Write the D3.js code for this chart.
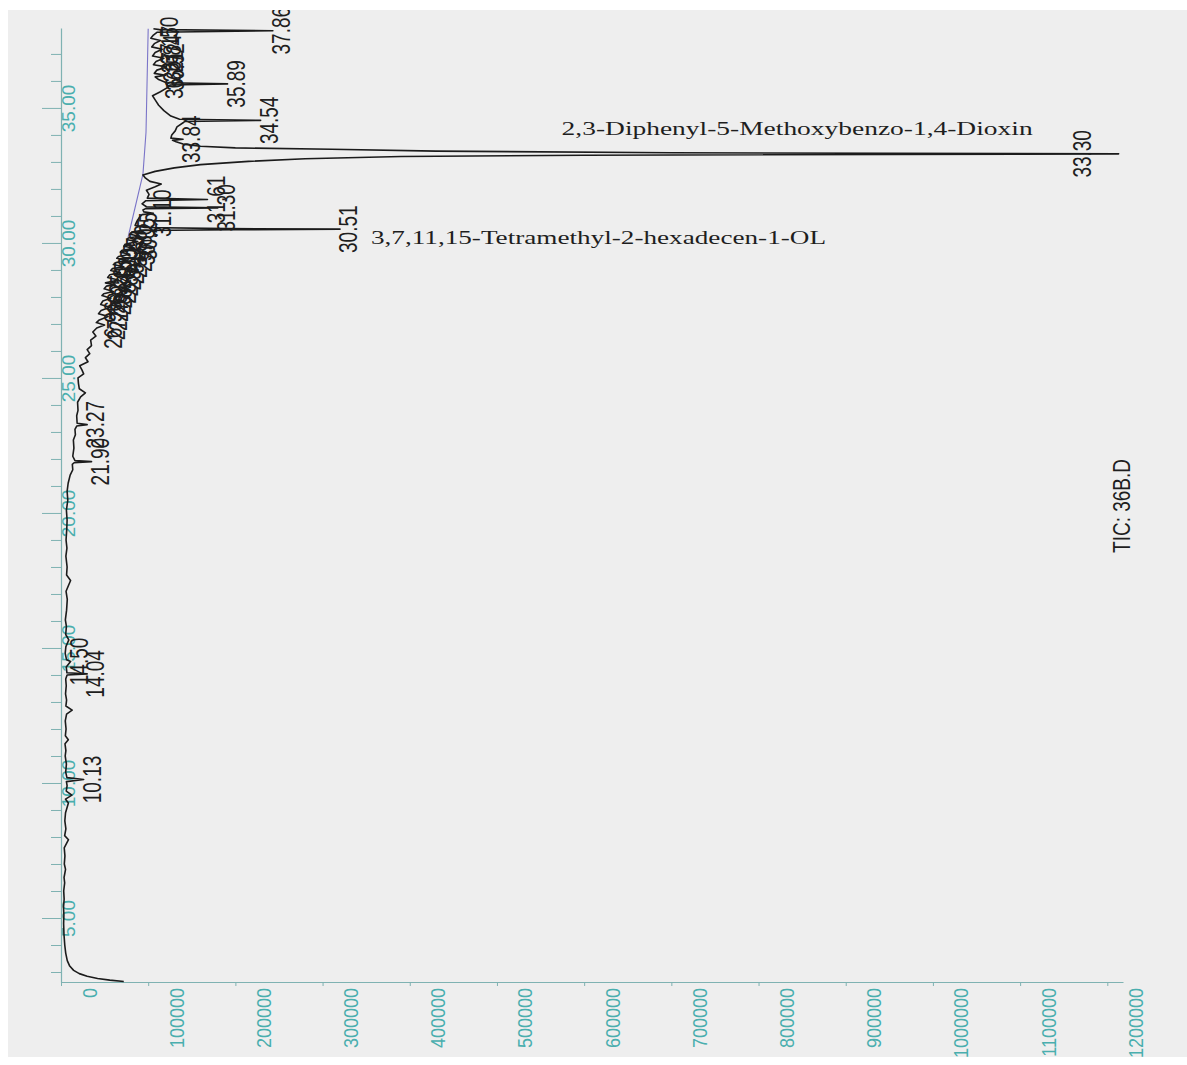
<!DOCTYPE html>
<html>
<head>
<meta charset="utf-8">
<script src="https://cdn.jsdelivr.net/npm/d3@7"></script>
<style>
  html, body { margin: 0; padding: 0; background: #ffffff; }
  svg { display: block; }
</style>
</head>
<body>
<svg id="chart" width="1187" height="1065"></svg>
<script>
// Total ion chromatogram, drawn with retention time running upward and abundance to the right.

// Retention time (min) and abundance of the trace
const trace = [
  [2.65, 72000],[2.70, 56000],[2.76, 42000],[2.84, 30000],[2.94, 21000],[3.06, 14500],[3.22, 10000],
  [3.42, 7200],[3.70, 5400],[4.00, 4300],[4.40, 3400],[4.80, 3000],[5.10, 3300],[5.40, 2900],
  [5.70, 3600],[6.00, 3100],[6.30, 4200],[6.50, 3500],[6.80, 5200],[7.00, 3800],[7.30, 4500],
  [7.60, 3700],[7.90, 8600],[8.05, 4200],[8.30, 5600],[8.60, 4400],[8.90, 5200],[9.26, 8500],
  [9.40, 5200],[9.55, 12500],[9.70, 6000],[9.90, 7000],[10.05, 6200],[10.13, 26000],[10.20, 6800],
  [10.40, 5400],[10.70, 6200],[11.00, 4800],[11.20, 5600],[11.45, 4600],[11.60, 8400],[11.75, 5000],
  [12.00, 5800],[12.30, 4900],[12.55, 6400],[12.70, 12800],[12.85, 5600],[13.07, 6400],[13.30, 5200],
  [13.60, 6000],[13.85, 5400],[14.00, 7000],[14.04, 30000],[14.08, 6800],[14.30, 6000],[14.50, 11000],
  [14.56, 6400],[14.80, 4800],[15.05, 5600],[15.30, 9000],[15.50, 5400],[15.80, 6200],[16.04, 5000],
  [16.40, 6400],[16.80, 7200],[17.10, 5800],[17.50, 11000],[17.70, 6400],[18.00, 7000],[18.40, 5600],
  [18.70, 6800],[19.00, 5800],[19.40, 6600],[19.74, 7000],[20.10, 6200],[20.48, 7800],[20.80, 7000],
  [21.10, 8200],[21.40, 10500],[21.60, 13500],[21.80, 13000],[21.86, 15000],[21.90, 35000],[21.94, 16000],
  [22.10, 13500],[22.40, 14800],[22.70, 14200],[22.90, 16500],[23.10, 16000],[23.22, 18000],[23.27, 30000],
  [23.32, 18500],[23.60, 18000],[23.80, 19500],[24.10, 19000],[24.30, 22500],[24.45, 28000],[24.60, 21000],
  [24.80, 20000],[25.00, 19500],[25.15, 26000],[25.30, 24000],[25.45, 21500],[25.60, 31000],[25.75, 28000],
  [25.90, 33000],[26.05, 30000],[26.20, 35000],[26.40, 34000],[26.55, 40000],[26.70, 36500],[26.85, 41000],
  [26.96, 50000],[27.05, 40500],[27.15, 44000],[27.28, 54000],[27.38, 43000],[27.50, 46000],[27.62, 56000],
  [27.72, 45500],[27.85, 48000],[27.95, 57000],[28.05, 47000],[28.12, 49000],[28.20, 60000],[28.30, 49500],
  [28.40, 52000],[28.45, 62000],[28.52, 51000],[28.63, 66000],[28.72, 53500],[28.82, 56000],[28.90, 68000],
  [28.98, 57000],[29.05, 59000],[29.12, 72000],[29.20, 60000],[29.27, 63000],[29.35, 75000],[29.43, 64000],
  [29.50, 66000],[29.58, 79000],[29.66, 68000],[29.73, 70000],[29.80, 84000],[29.88, 72000],[29.95, 73500],
  [30.05, 88000],[30.12, 76000],[30.18, 77000],[30.25, 90000],[30.32, 79000],[30.40, 81000],[30.46, 92000],
  [30.49, 200000],[30.51, 320000],[30.53, 190000],[30.57, 96000],[30.65, 85000],[30.80, 87000],[30.95, 90000],
  [31.05, 93000],[31.10, 106000],[31.15, 95000],[31.22, 94000],[31.27, 97000],[31.30, 180000],[31.34, 98000],
  [31.45, 93000],[31.56, 97000],[31.61, 168000],[31.66, 99000],[31.80, 101000],[31.95, 98000],[32.08, 108000],
  [32.18, 115000],[32.28, 102000],[32.40, 97000],[32.52, 94000],[32.65, 108000],[32.78, 130000],[32.90, 160000],
  [33.02, 215000],[33.12, 280000],[33.20, 390000],[33.25, 600000],[33.30, 1213000],[33.34, 700000],[33.40, 430000],
  [33.47, 310000],[33.52, 200000],[33.58, 160000],[33.66, 140000],[33.75, 132000],[33.80, 128000],[33.84, 140000],
  [33.88, 126000],[34.00, 127000],[34.15, 131000],[34.30, 133000],[34.45, 140000],[34.50, 142000],[34.54, 229000],
  [34.58, 136000],[34.70, 126000],[34.90, 118000],[35.10, 112000],[35.30, 108000],[35.45, 105000],[35.60, 114000],
  [35.75, 122000],[35.85, 125000],[35.89, 191000],[35.93, 121000],[36.05, 112000],[36.15, 108000],[36.21, 120000],
  [36.28, 107000],[36.40, 110000],[36.52, 121000],[36.60, 106000],[36.72, 109000],[36.84, 118000],[36.92, 105000],
  [37.05, 108000],[37.17, 116000],[37.26, 104000],[37.38, 107000],[37.50, 114000],[37.58, 103000],[37.70, 106000],
  [37.80, 110000],[37.86, 243000],[37.90, 113000],[37.93, 106000]
];

// Retention times of the integrated peaks that carry a label
const peakTimes = [10.13, 14.04, 14.50, 21.90, 23.27, 26.96, 27.28, 27.62, 27.95, 28.20, 28.45, 28.63,
  28.90, 29.12, 29.35, 29.58, 29.80, 30.05, 30.25, 30.51, 31.10, 31.30, 31.61, 33.30, 33.84, 34.54,
  35.89, 36.21, 36.52, 36.84, 37.17, 37.50, 37.86];

// Identified compounds and the peaks they belong to
const compoundNames = ["2,3-Diphenyl-5-Methoxybenzo-1,4-Dioxin", "3,7,11,15-Tetramethyl-2-hexadecen-1-OL"];
const compoundPeaks = [33.30, 30.51];

// Integration baseline under the late-eluting peaks
const integrationBaseline = [[30.22, 77000], [32.55, 94000], [34.10, 97500], [37.93, 100000]];

// Axis ticks
const abundanceTicks = [0, 100000, 200000, 300000, 400000, 500000, 600000, 700000, 800000, 900000, 1000000, 1100000, 1200000];
const timeMajorTicks = [5, 10, 15, 20, 25, 30, 35];
const timeMinorTicks = [3, 4, 6, 7, 8, 9, 11, 12, 13, 14, 16, 17, 18, 19, 21, 22, 23, 24, 26, 27, 28, 29, 31, 32, 33, 34, 36, 37];

const fileLabel = "TIC: 36B.D";

const svg = d3.select("#chart");
const axisColor = "#7fb2b2";
const tickTextColor = "#4aaeae";
const traceColor = "#1b1b1b";

// page background
svg.append("rect").attr("x", 8).attr("y", 10).attr("width", 1179).attr("height", 1047).attr("fill", "#eeeeee");
svg.append("clipPath").attr("id", "page").append("rect")
  .attr("x", 8).attr("y", 10).attr("width", 1179).attr("height", 1047);

const root = svg.append("g").attr("clip-path", "url(#page)");

const x = d3.scaleLinear().domain([0, 1218000]).range([61, 1123]);
const y = d3.scaleLinear().domain([2.63, 37.96]).range([982, 28]);

// abundance axis along the bottom
const xAxis = root.append("g").attr("transform", `translate(0,${y.range()[0]})`)
  .call(d3.axisBottom(x).tickValues(abundanceTicks).tickSize(4).tickSizeOuter(0).tickFormat(d3.format("d")));
xAxis.select(".domain").attr("stroke", axisColor).attr("stroke-width", 1.2);
xAxis.selectAll(".tick line").attr("stroke", axisColor);
xAxis.selectAll(".tick text")
  .attr("x", 0).attr("y", 0).attr("dy", 0)
  .attr("transform", "translate(35,6) scale(1.15,1) rotate(-90)")
  .attr("text-anchor", "end")
  .attr("fill", tickTextColor)
  .style("font-family", "'Liberation Sans', Arial, sans-serif")
  .style("font-size", "18px");

// retention time axis on the left
const yMinor = root.append("g").attr("transform", `translate(${x.range()[0]},0)`)
  .call(d3.axisLeft(y).tickValues(timeMinorTicks).tickSize(10).tickSizeOuter(0).tickFormat(""));
yMinor.select(".domain").attr("stroke", axisColor).attr("stroke-width", 1.2);
yMinor.selectAll(".tick line").attr("stroke", axisColor);

const yAxis = root.append("g").attr("transform", `translate(${x.range()[0]},0)`)
  .call(d3.axisLeft(y).tickValues(timeMajorTicks).tickSize(19).tickSizeOuter(0).tickFormat(d3.format(".2f")));
yAxis.select(".domain").remove();
yAxis.selectAll(".tick line").attr("stroke", axisColor);
yAxis.selectAll(".tick text")
  .attr("x", 0).attr("y", 0).attr("dy", "0.35em")
  .attr("transform", "translate(7,0) rotate(-90)")
  .attr("text-anchor", "middle")
  .attr("fill", tickTextColor)
  .style("font-family", "'Liberation Sans', Arial, sans-serif")
  .style("font-size", "19px");

// integration baseline
root.append("path")
  .datum(integrationBaseline)
  .attr("fill", "none")
  .attr("stroke", "#7a74c8")
  .attr("stroke-width", 1.1)
  .attr("d", d3.line().x(d => x(d[1])).y(d => y(d[0])));

// chromatogram trace
root.append("path")
  .datum(trace)
  .attr("fill", "none")
  .attr("stroke", traceColor)
  .attr("stroke-width", 1.6)
  .attr("stroke-linejoin", "round")
  .attr("d", d3.line().x(d => x(d[1])).y(d => y(d[0])));

// peak retention-time labels, placed at each apex of the trace
const apexOf = t => trace.find(d => Math.abs(d[0] - t) < 1e-6);
const labelFont = "'Liberation Sans', Arial, sans-serif";
root.append("g").selectAll("text")
  .data(peakTimes)
  .join("text")
  .attr("transform", t => {
    const tip = x(apexOf(t)[1]);
    const cx = tip + 18 > x.range()[1] ? tip - 37 : tip + 8;
    return `translate(${cx},${y(t)}) scale(1.4,1) rotate(-90)`;
  })
  .attr("dy", "0.35em")
  .attr("text-anchor", "middle")
  .attr("fill", "#1e1e1e")
  .style("font-family", labelFont)
  .style("font-size", "19px")
  .text(t => t.toFixed(2));

// compound names
const nameFont = "'Liberation Serif', 'Times New Roman', serif";
const tipD = apexOf(compoundPeaks[0]);
root.append("text")
  .attr("x", x(tipD[1]) - 557).attr("y", y(compoundPeaks[0]) - 19)
  .attr("textLength", 471).attr("lengthAdjust", "spacingAndGlyphs")
  .attr("fill", "#1e1e1e")
  .style("font-family", nameFont).style("font-size", "19px")
  .text(compoundNames[0]);
const tipT = apexOf(compoundPeaks[1]);
root.append("text")
  .attr("x", x(tipT[1]) + 31).attr("y", y(compoundPeaks[1]) + 15)
  .attr("textLength", 455).attr("lengthAdjust", "spacingAndGlyphs")
  .attr("fill", "#1e1e1e")
  .style("font-family", nameFont).style("font-size", "19px")
  .text(compoundNames[1]);

// data file label
root.append("text")
  .attr("transform", "translate(1121,506) scale(1.3,1) rotate(-90)")
  .attr("dy", "0.35em")
  .attr("text-anchor", "middle")
  .attr("fill", "#1e1e1e")
  .style("font-family", labelFont)
  .style("font-size", "19px")
  .text(fileLabel);
</script>
</body>
</html>
